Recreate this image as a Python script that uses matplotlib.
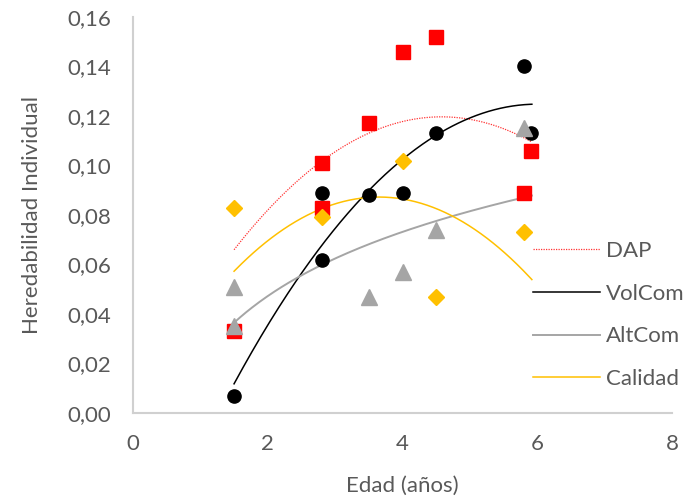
import numpy as np
import matplotlib
matplotlib.use('Agg')
import matplotlib.pyplot as plt

plt.rcParams['font.family'] = ['Lato', 'DejaVu Sans']

# data
dap_x = [1.5, 2.8, 2.8, 3.5, 4.0, 4.5, 5.8, 5.9]
dap_y = [0.033, 0.101, 0.083, 0.117, 0.146, 0.152, 0.089, 0.106]
vol_x = [1.5, 2.8, 2.8, 3.5, 4.0, 4.5, 5.8, 5.9]
vol_y = [0.007, 0.089, 0.062, 0.088, 0.089, 0.113, 0.140, 0.113]
alt_x = [1.5, 1.5, 3.5, 4.0, 4.5, 5.8]
alt_y = [0.051, 0.035, 0.047, 0.057, 0.074, 0.115]
cal_x = [1.5, 2.8, 4.0, 4.5, 5.8]
cal_y = [0.083, 0.079, 0.102, 0.047, 0.073]

# trend line values (DAP, Calidad curves)
dap_tr_x = [1.5, 2.8, 4.48, 5.92]
dap_tr_y = [0.0663, 0.1009, 0.1204, 0.1092]
cal_tr_x = [1.5, 2.8, 3.66, 5.92]
cal_tr_y = [0.0578, 0.0807, 0.0888, 0.0537]

labels = ['DAP', 'VolCom', 'AltCom', 'Calidad']
yticks = [0.00, 0.02, 0.04, 0.06, 0.08, 0.10, 0.12, 0.14, 0.16]

red = '#FF0000'
gray = '#A5A5A5'
yellow = '#FFC000'
txt = '#595959'

fig = plt.figure(figsize=(6.85, 5), dpi=100)
ax = fig.add_axes([133/685, 87/500, 539/685, 396/500])

# quadratic trend lines, log trend for AltCom
xs = np.linspace(1.5, 5.92, 200)
p = np.polyfit(dap_tr_x, dap_tr_y, 2)
l_dap, = ax.plot(xs, np.polyval(p, xs), color=red, lw=0.9, ls=(0, (1, 1)), alpha=0.8)
p = np.polyfit(vol_x, vol_y, 2)
l_vol, = ax.plot(xs, np.polyval(p, xs), color='black', lw=1.1)
p = np.polyfit(np.log(alt_x), alt_y, 1)
l_alt, = ax.plot(xs, np.polyval(p, np.log(xs)), color=gray, lw=1.4)
p = np.polyfit(cal_tr_x, cal_tr_y, 2)
l_cal, = ax.plot(xs, np.polyval(p, xs), color=yellow, lw=1.1)

ax.plot(dap_x, dap_y, 's', color=red, ms=10, ls='none', zorder=3)
ax.plot(vol_x, vol_y, 'o', color='black', ms=9.5, ls='none', zorder=3)
ax.plot(alt_x, alt_y, '^', color=gray, ms=11, ls='none', zorder=3)
ax.plot(cal_x, cal_y, 'D', color=yellow, ms=8, ls='none', zorder=3)

ax.set_xlim(0, 8)
ax.set_ylim(0, 0.16)
ax.set_xticks([0, 2, 4, 6, 8])
ax.set_yticks(yticks)
ax.set_yticklabels([('%.2f' % v).replace('.', ',') for v in yticks])
ax.tick_params(length=0, labelsize=16, colors=txt)
ax.tick_params(axis='x', pad=15)
ax.tick_params(axis='y', pad=16)
for s in ['top', 'right']:
    ax.spines[s].set_visible(False)
for s in ['left', 'bottom']:
    ax.spines[s].set_color('#D0D0D0')
    ax.spines[s].set_linewidth(1.5)

ax.set_xlabel('Edad (años)', fontsize=16, color=txt, labelpad=16)
ax.set_ylabel('Heredabilidad Individual', fontsize=16, color=txt, labelpad=18)

fig.legend([l_dap, l_vol, l_alt, l_cal], labels,
           loc='center left', bbox_to_anchor=(533/685, 1-315/500), frameon=False,
           fontsize=16, labelcolor=txt, handlelength=3.0, handletextpad=0.3,
           labelspacing=1.02, borderpad=0, borderaxespad=0)

fig.savefig('out.png', dpi=100)
